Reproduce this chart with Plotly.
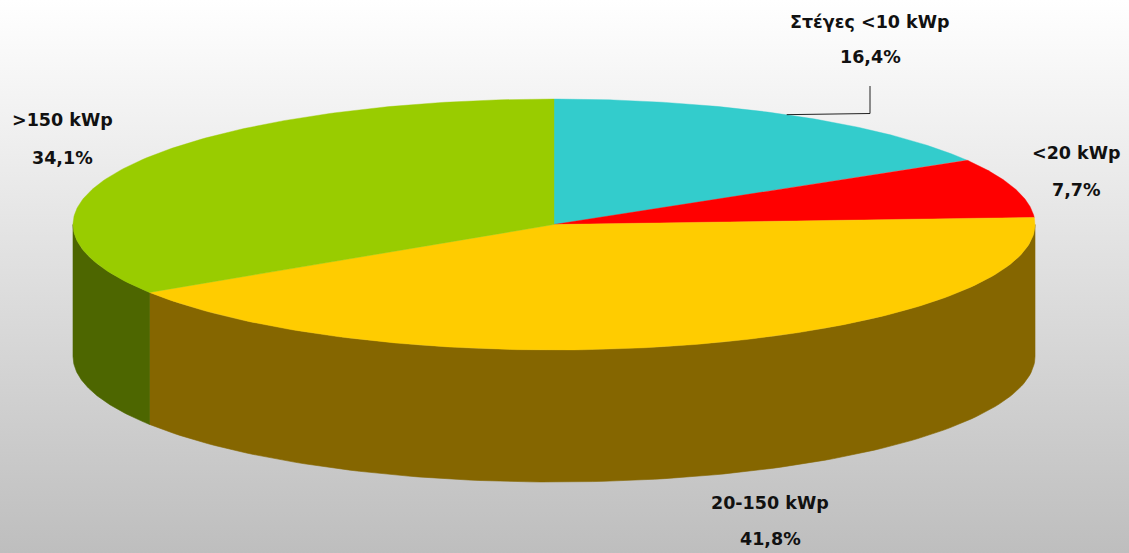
import numpy as np
import plotly.graph_objects as go

W, H = 1129, 553
categories = ["Στέγες <10 kWp", "<20 kWp", "20-150 kWp", ">150 kWp"]
shares = [16.4, 7.7, 41.8, 34.1]
share_labels = ["16,4%", "7,7%", "41,8%", "34,1%"]
top_colors = ["#33CCCC", "#FF0000", "#FFCC00", "#99CC00"]
side_colors = ["#1A6666", "#800000", "#856600", "#4D6600"]
label_pos = [(870, 22, 57), (1076, 153, 190), (770, 503, 539), (62, 120, 158)]

CX, CY, RX, RY, DEPTH = 554.0, 224.5, 481.0, 125.5, 132.0


def pt(deg, dy=0.0):
    r = np.radians(deg)
    return CX + RX * np.sin(r), CY - RY * np.cos(r) + dy


fig = go.Figure()
fig.add_trace(go.Scatter(
    x=[0, W, W, 0, 0], y=[0, 0, H, H, 0], mode="lines", line=dict(width=0),
    fill="toself", hoverinfo="skip",
    fillgradient=dict(type="vertical", start=0, stop=H,
                      colorscale=[[0, "#FFFFFF"], [1, "#BEBEBE"]]),
))

edges = np.concatenate([[0], np.cumsum(shares)]) / sum(shares) * 360

# side walls (front half only: 90..270 degrees)
for i in range(len(shares)):
    a, b = max(edges[i], 90), min(edges[i + 1], 270)
    if b <= a:
        continue
    t = np.linspace(a, b, 120)
    xt, yt = pt(t)
    xb, yb = pt(t[::-1], DEPTH)
    fig.add_trace(go.Scatter(
        x=np.r_[xt, xb, xt[0]], y=np.r_[yt, yb, yt[0]], mode="lines",
        fill="toself", fillcolor=side_colors[i], line=dict(width=0.6, color=side_colors[i]),
        hoverinfo="skip",
    ))

# top faces
for i in range(len(shares)):
    t = np.linspace(edges[i], edges[i + 1], 160)
    xt, yt = pt(t)
    fig.add_trace(go.Scatter(
        x=np.r_[CX, xt, CX], y=np.r_[CY, yt, CY], mode="lines",
        fill="toself", fillcolor=top_colors[i], line=dict(width=0.4, color=top_colors[i]),
        hoverinfo="skip",
    ))

# leader line of the first slice
lx, ly = pt(edges[1] * 0.49)
fig.add_trace(go.Scatter(x=[lx, 870, 870], y=[ly, 113.5, 86], mode="lines",
                         line=dict(color="#222222", width=1), hoverinfo="skip"))

FONT = dict(family="DejaVu Sans, sans-serif", size=17.5, color="#111111", weight="bold")
anns = []
for name, val, (x, y1, y2) in zip(categories, share_labels, label_pos):
    for txt, y in ((name, y1), (val, y2)):
        anns.append(dict(x=x, y=y, xref="x", yref="y", text=txt, showarrow=False,
                         font=FONT, xanchor="center", yanchor="middle"))

fig.update_layout(
    width=W, height=H, margin=dict(l=0, r=0, t=0, b=0), showlegend=False,
    paper_bgcolor="#FFFFFF", plot_bgcolor="rgba(0,0,0,0)", annotations=anns,
    xaxis=dict(range=[0, W], visible=False, fixedrange=True),
    yaxis=dict(range=[H, 0], visible=False, fixedrange=True),
)
fig.write_html("out.html", config={"displayModeBar": False},
               post_script="document.body.style.margin='0';document.body.style.overflow='hidden';")
